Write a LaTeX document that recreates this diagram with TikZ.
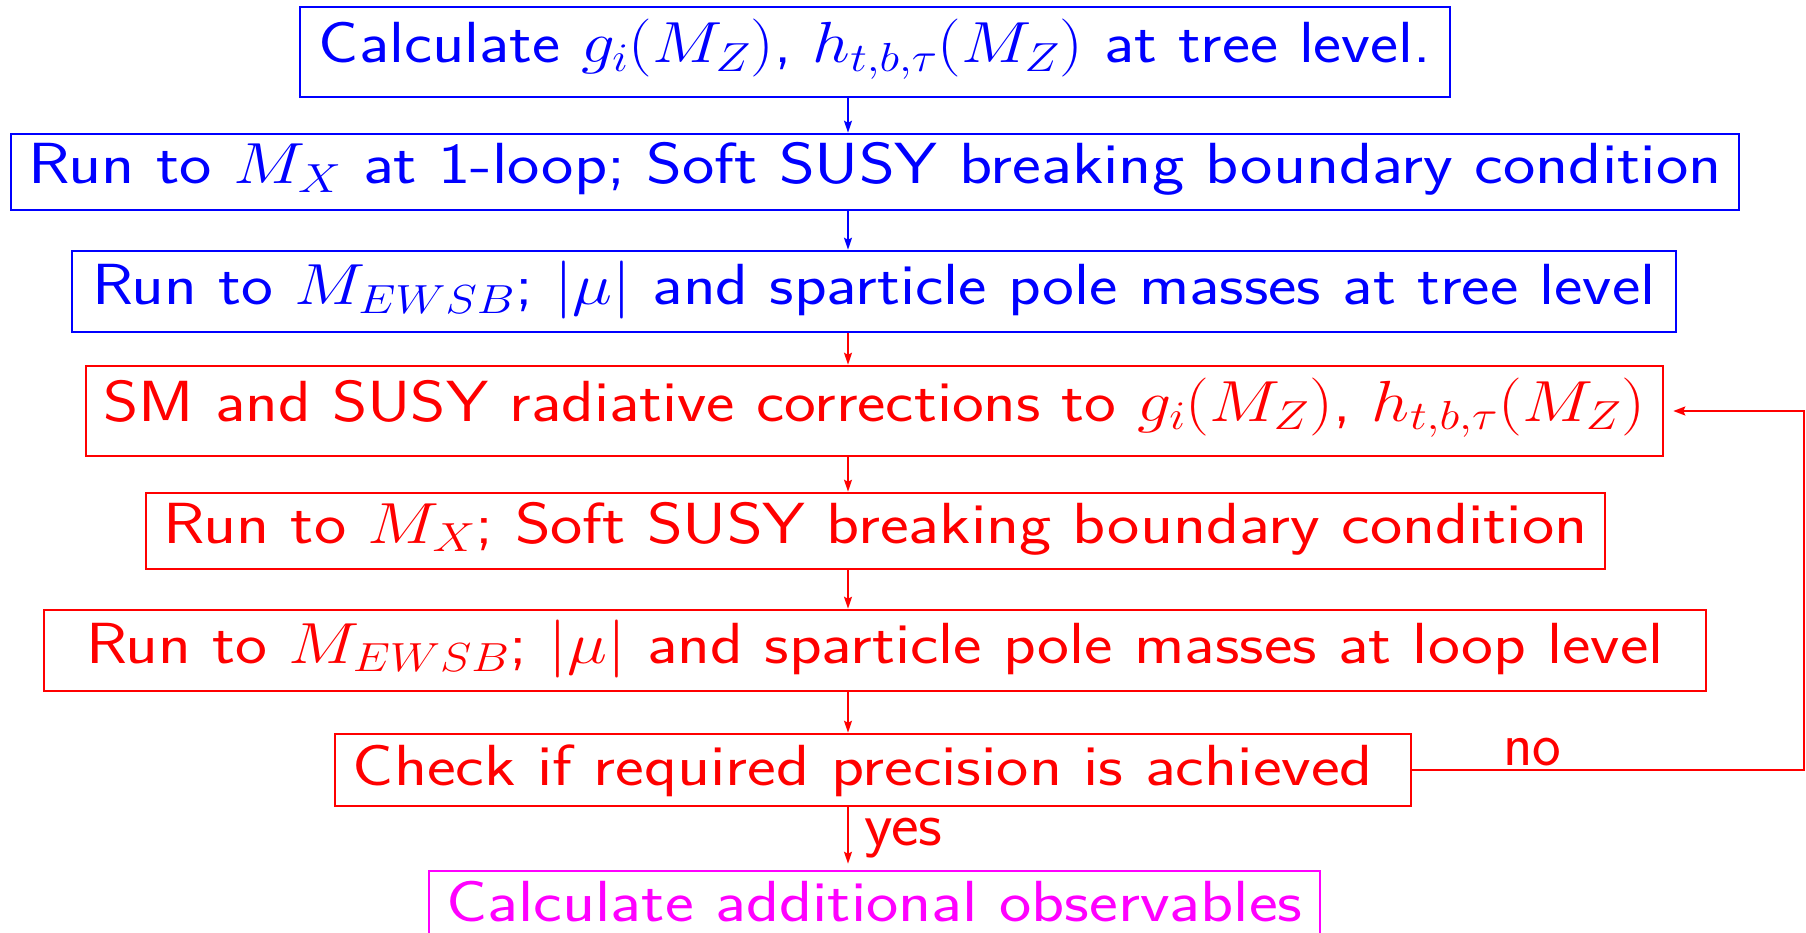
\RequirePackage{fix-cm}
\documentclass[tikz,border=0pt]{standalone}
\usepackage{graphicx}
\usetikzlibrary{arrows.meta,calc}
\definecolor{pblue}{RGB}{0,0,255}
\definecolor{pred}{RGB}{255,0,0}
\definecolor{pmag}{RGB}{255,0,255}
% width, height above baseline, depth below baseline, text
\newcommand{\boxtxt}[4]{\raisebox{0pt}[#2pt][#3pt]{\resizebox{#1pt}{\height}{#4}}}
\newcommand{\lbltxt}[2]{\resizebox{#1pt}{\height}{#2}}
\tikzset{
  flowbox/.style={draw, line width=2.6pt, inner sep=0pt, anchor=base, font=\sffamily\fontsize{58}{64}\selectfont},
  flowarr/.style={line width=1.4pt, -{Stealth[length=12pt,width=8pt,inset=2pt]}},
  looparr/.style={line width=1.8pt, -{Stealth[length=12pt,width=9pt,inset=2pt]}},
  lbl/.style={inner sep=0pt, anchor=base west, font=\sffamily\fontsize{62}{70}\selectfont}
}
\begin{document}
\begin{tikzpicture}[x=1pt,y=-1pt]
\useasboundingbox (0,0) rectangle (1806,933);
\node[flowbox, pblue, minimum width=1150pt] (b1) at (875,63)
  {\boxtxt{1112}{56}{34}{Calculate $g_i(M_Z)$, $h_{t,b,\tau}(M_Z)$ at tree level.}};
\node[flowbox, pblue, minimum width=1728pt] (b2) at (875,184)
  {\boxtxt{1693}{50}{26}{Run to $M_X$ at 1-loop; Soft SUSY breaking boundary condition}};
\node[flowbox, pblue, minimum width=1604pt] (b3) at (874,305)
  {\boxtxt{1563}{54}{27}{Run to $M_{EWSB}$; $|\mu|$ and sparticle pole masses at tree level}};
\node[flowbox, pred, minimum width=1577pt] (b4) at (874.5,421)
  {\boxtxt{1542}{55}{35}{SM and SUSY radiative corrections to $g_i(M_Z)$, $h_{t,b,\tau}(M_Z)$}};
\node[flowbox, pred, minimum width=1459pt] (b5) at (875.5,543)
  {\boxtxt{1424}{50}{26}{Run to $M_X$; Soft SUSY breaking boundary condition}};
\node[flowbox, pred, minimum width=1662pt] (b6) at (875,663)
  {\boxtxt{1577}{53}{28}{Run to $M_{EWSB}$; $|\mu|$ and sparticle pole masses at loop level}};
\node[flowbox, pred, minimum width=1076pt] (b7) at (873,785)
  {\boxtxt{1020}{51}{21}{Check if required precision is achieved}\hspace*{20pt}};
\node[flowbox, pmag, minimum width=891pt] (b8) at (874.5,921)
  {\boxtxt{856}{50}{30}{Calculate additional observables}};
\coordinate (ax) at (848,0);
\coordinate (lp) at (1804,0);
\draw[flowarr, pblue] (b1.south -| ax) -- (b2.north -| ax);
\draw[flowarr, pblue] (b2.south -| ax) -- (b3.north -| ax);
\draw[flowarr, pred] (b3.south -| ax) -- (b4.north -| ax);
\draw[flowarr, pred] (b4.south -| ax) -- (b5.north -| ax);
\draw[flowarr, pred] (b5.south -| ax) -- (b6.north -| ax);
\draw[flowarr, pred] (b6.south -| ax) -- (b7.north -| ax);
\draw[flowarr, pred, shorten >=6pt] (b7.south -| ax) -- (b8.north -| ax);
\draw[looparr, pred, shorten >=9pt] (b7.east) -- (lp |- b7.east) -- (lp |- b4.east) -- (b4.east);
\node[lbl, pred] (yes) at (864,845) {\lbltxt{78}{yes}};
\node[lbl, pred] (no) at (1503,765) {\lbltxt{58}{no}};
\end{tikzpicture}
\end{document}
